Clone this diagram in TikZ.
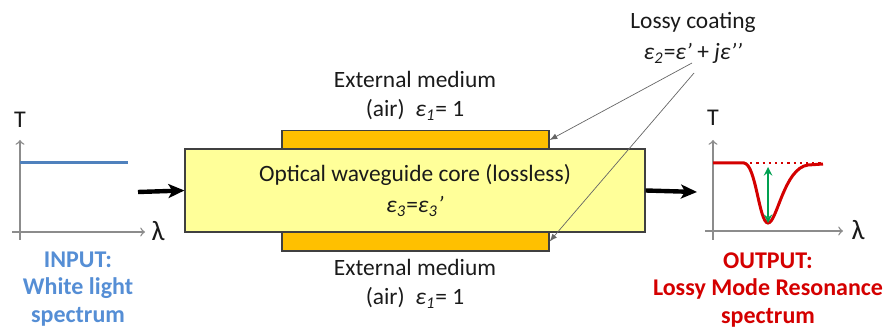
\documentclass[tikz,border=0pt]{standalone}
\usepackage{fontspec}
\setmainfont{Carlito}
\usetikzlibrary{arrows, arrows.meta, positioning}
\definecolor{coreyellow}{HTML}{FFFF99}
\definecolor{coatorange}{HTML}{FFC000}
\definecolor{edgegray}{HTML}{404040}
\definecolor{axisgray}{HTML}{8C8C8C}
\definecolor{txtdark}{HTML}{1A1A1A}
\definecolor{inblue}{HTML}{558ED5}
\definecolor{lineblue}{HTML}{4F81BD}
\definecolor{outred}{HTML}{D40000}
\definecolor{dipgreen}{HTML}{00A050}
\newcommand{\eps}{\textit{ε}}

\begin{document}
\begin{tikzpicture}[x=0.5pt,y=-0.5pt,
  txt/.style={font=\fontsize{11.7}{14.5}\selectfont,text=txtdark,align=center,inner sep=0pt},
  caption/.style={font=\fontsize{12}{13.6}\selectfont\bfseries,align=center,inner sep=0pt},
  coat/.style={draw=edgegray,fill=coatorange,line width=0.6pt,minimum width=133.5pt,
               minimum height=9.5pt,inner sep=0pt},
  guide/.style={draw=edgegray,fill=coreyellow,line width=0.6pt,minimum width=230pt,
                minimum height=41.5pt,inner sep=0pt,align=center,
                font=\fontsize{11.7}{14.5}\selectfont,text=txtdark},
  axis/.style={-to,draw=axisgray,line width=0.7pt},
  feed/.style={-{Stealth[length=8pt,width=7pt,inset=2pt]},line width=2.2pt},
  pointer/.style={-latex,draw=black!60,line width=0.35pt}
]
  \useasboundingbox (0,0) rectangle (884,331);

  % waveguide with coating
  \node[coat] (coattop) at (415.5,140) {};
  \node[coat] (coatbot) at (415.5,241.5) {};
  \node[guide] (core) at (415,190.5)
       {Optical waveguide core (lossless)\\[1pt]\eps\textsubscript{\itshape 3}=\eps\textsubscript{\itshape 3}\textit{’}};

  \node[txt] (exttop) at (415,96) {External medium\\(air)\ \ \eps\textsubscript{\itshape 1}= 1};
  \node[txt] (extbot) at (415,284) {External medium\\(air)\ \ \eps\textsubscript{\itshape 1}= 1};

  % lossy coating label
  \node[txt] (lossy) at (693,38) {Lossy coating\\[1pt]\eps\textsubscript{\itshape 2}=\eps\textit{’} + \textit{j}\eps\textit{’’}};
  \coordinate (ptA) at (692,63);
  \coordinate (ptB) at (694,73);
  \draw[pointer] (ptA) -- (coattop.east);
  \draw[pointer] (ptB) -- (coatbot.east);

  % input spectrum
  \coordinate (inV0) at (20,240);
  \coordinate (inV1) at (20,140);
  \coordinate (inH0) at (12,232);
  \coordinate (inH1) at (145,232);
  \draw[axis] (inV0) -- (inV1);
  \draw[axis] (inH0) -- (inH1);
  \node[txt,font=\fontsize{12}{14}\selectfont] (inT) at (20,120) {T};
  \node[txt,font=\fontsize{14}{14}\selectfont] (inL) at (158,231) {λ};
  \coordinate (flat0) at (20,163);
  \coordinate (flat1) at (128,163);
  \draw[lineblue,line width=1.5pt] (flat0) -- (flat1);
  \node[caption,text=inblue] (input) at (78,289) {INPUT:\\White light\\spectrum};

  % feed arrows
  \coordinate (feedin) at (138,192);
  \coordinate (feedout) at (697,192);
  \draw[feed] (feedin) -- (core.west);
  \draw[feed] (core.east) -- (feedout);

  % output spectrum
  \coordinate (outV0) at (713,240);
  \coordinate (outV1) at (713,140);
  \coordinate (outH0) at (705,231);
  \coordinate (outH1) at (843,231);
  \draw[axis] (outV0) -- (outV1);
  \draw[axis] (outH0) -- (outH1);
  \node[txt,font=\fontsize{12}{14}\selectfont] (outT) at (713,118) {T};
  \node[txt,font=\fontsize{14}{14}\selectfont] (outL) at (858,230) {λ};
  \coordinate (base0) at (713,163);
  \coordinate (base1) at (823,163);
  \coordinate (dip) at (768,223);
  \draw[outred,line width=1.1pt,dotted] (base0) -- (base1);
  \draw[outred,line width=1.5pt] (base0) -- (744,163)
       .. controls (756,164) and (759,223) .. (dip)
       .. controls (777,223) and (784,168) .. (808,165) -- (823,164);
  \coordinate (gapTop) at (768,167);
  \draw[dipgreen,line width=0.9pt,stealth-stealth] (dip) -- (gapTop);
  \node[caption,text=outred] (output) at (768,290) {OUTPUT:\\Lossy Mode Resonance\\spectrum};
\end{tikzpicture}
\end{document}
